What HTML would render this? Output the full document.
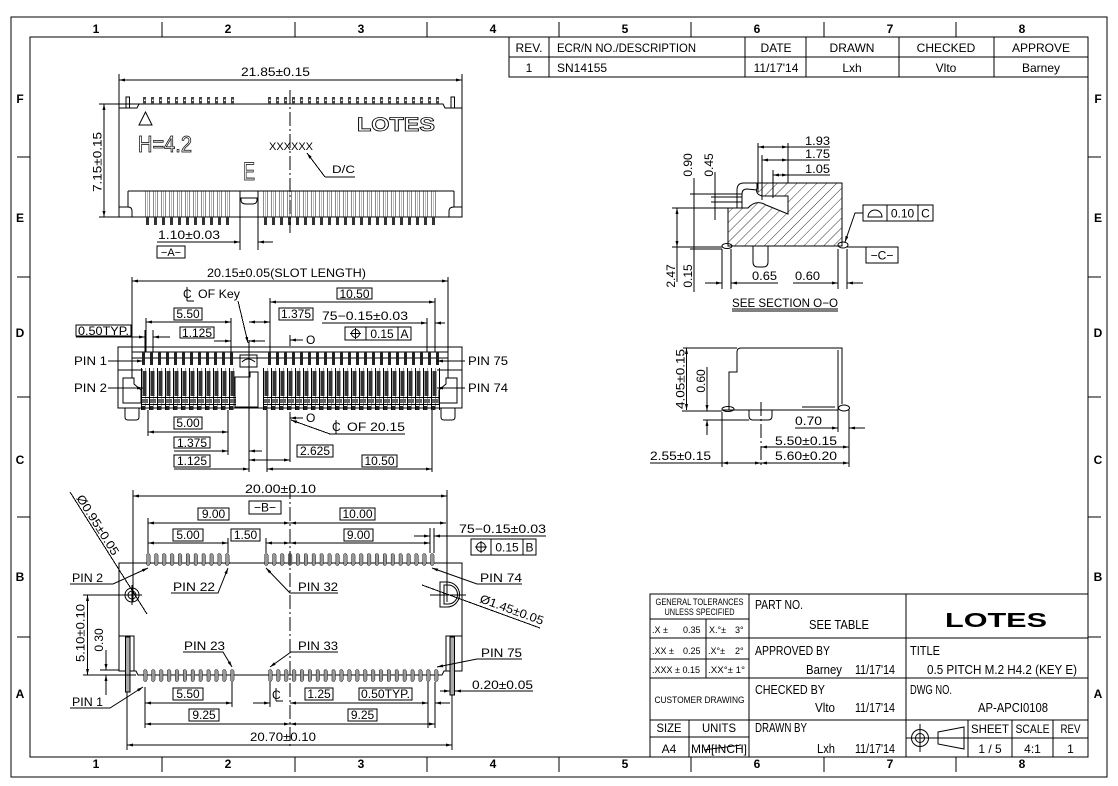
<!DOCTYPE html>
<html><head><meta charset="utf-8">
<style>
html,body{margin:0;padding:0;background:#fff;}
svg{display:block;}
.s line,.s path,.s rect,.s circle,.s polyline,.s polygon,.s ellipse{stroke:#000;stroke-width:1;fill:none;}
.s line,.s rect{shape-rendering:crispEdges;}
text{font-family:"Liberation Sans",sans-serif;fill:#000;}
.d{font-size:12px;}
.b{font-weight:bold;font-size:12px;}
.tb{font-size:13px;}
.sm{font-size:9px;}
.cl{stroke-dasharray:14,3,2,3;}
</style></head><body>
<svg class="s" width="1118" height="786" viewBox="0 0 1118 786" xmlns="http://www.w3.org/2000/svg">
<defs>
<marker id="a" viewBox="0 0 8 4" refX="8" refY="2" markerWidth="7" markerHeight="3" orient="auto-start-reverse" markerUnits="userSpaceOnUse"><path d="M0,0L8,2L0,4z" style="fill:#000;stroke:none"/></marker>
<pattern id="h" patternUnits="userSpaceOnUse" width="7" height="7" patternTransform="rotate(45)"><line x1="0" y1="0" x2="0" y2="7" style="stroke:#000;stroke-width:0.8"/></pattern>
<pattern id="pA1" patternUnits="userSpaceOnUse" x="143" y="97" width="8" height="7"><rect x="0" y="0" width="3.2" height="7" style="fill:#444;stroke:none"/><rect x="0.8" y="2.5" width="1.6" height="1.4" style="fill:#fff;stroke:none"/></pattern>
<pattern id="pA2" patternUnits="userSpaceOnUse" x="268" y="97" width="8" height="7"><rect x="0" y="0" width="3.2" height="7" style="fill:#444;stroke:none"/><rect x="0.8" y="2.5" width="1.6" height="1.4" style="fill:#fff;stroke:none"/></pattern>
<pattern id="pB1" patternUnits="userSpaceOnUse" x="145" y="191" width="8" height="34"><rect x="0.5" y="0" width="4" height="26" style="fill:none;stroke:#000;stroke-width:0.9"/><line x1="2.5" y1="0" x2="2.5" y2="26" style="stroke:#000;stroke-width:0.5"/><rect x="1" y="26" width="3" height="8" style="fill:#333;stroke:none"/></pattern>
<pattern id="pB2" patternUnits="userSpaceOnUse" x="263" y="191" width="8" height="34"><rect x="0.5" y="0" width="4" height="26" style="fill:none;stroke:#000;stroke-width:0.9"/><line x1="2.5" y1="0" x2="2.5" y2="26" style="stroke:#000;stroke-width:0.5"/><rect x="1" y="26" width="3" height="8" style="fill:#333;stroke:none"/></pattern>
<pattern id="pC1" patternUnits="userSpaceOnUse" x="142" y="352" width="8" height="13"><rect x="0" y="0" width="3" height="13" style="fill:#222;stroke:none"/></pattern>
<pattern id="pC2" patternUnits="userSpaceOnUse" x="268" y="352" width="8" height="13"><rect x="0" y="0" width="3" height="13" style="fill:#222;stroke:none"/></pattern>
<pattern id="pD1" patternUnits="userSpaceOnUse" x="141" y="368" width="8" height="42"><line x1="0.5" y1="0" x2="0.5" y2="42" style="stroke:#000;stroke-width:1"/><line x1="4.5" y1="0" x2="4.5" y2="42" style="stroke:#000;stroke-width:0.8"/><rect x="1.5" y="3" width="4" height="25" style="fill:#333;stroke:none"/><line x1="0" y1="29.5" x2="8" y2="29.5" style="stroke:#000;stroke-width:1"/><line x1="0" y1="36.5" x2="8" y2="36.5" style="stroke:#000;stroke-width:1"/><rect x="1" y="31" width="6" height="4" style="fill:#666;stroke:none"/><rect x="1" y="38" width="3" height="4" style="fill:#222;stroke:none"/></pattern>
<pattern id="pD2" patternUnits="userSpaceOnUse" x="263" y="368" width="8" height="42"><line x1="0.5" y1="0" x2="0.5" y2="42" style="stroke:#000;stroke-width:1"/><line x1="4.5" y1="0" x2="4.5" y2="42" style="stroke:#000;stroke-width:0.8"/><rect x="1.5" y="3" width="4" height="25" style="fill:#333;stroke:none"/><line x1="0" y1="29.5" x2="8" y2="29.5" style="stroke:#000;stroke-width:1"/><line x1="0" y1="36.5" x2="8" y2="36.5" style="stroke:#000;stroke-width:1"/><rect x="1" y="31" width="6" height="4" style="fill:#666;stroke:none"/><rect x="1" y="38" width="3" height="4" style="fill:#222;stroke:none"/></pattern>
<pattern id="pE1" patternUnits="userSpaceOnUse" x="146" y="553" width="7.9" height="13"><rect x="0.5" y="0.5" width="3.5" height="12" rx="1.5" style="fill:#999;stroke:#000;stroke-width:0.9"/></pattern>
<pattern id="pE2" patternUnits="userSpaceOnUse" x="264" y="553" width="7.9" height="13"><rect x="0.5" y="0.5" width="3.5" height="12" rx="1.5" style="fill:#999;stroke:#000;stroke-width:0.9"/></pattern>
<pattern id="pF1" patternUnits="userSpaceOnUse" x="143" y="669" width="7.9" height="13"><rect x="0.5" y="0.5" width="3.5" height="12" rx="1.5" style="fill:#999;stroke:#000;stroke-width:0.9"/></pattern>
<pattern id="pF2" patternUnits="userSpaceOnUse" x="268" y="669" width="7.9" height="13"><rect x="0.5" y="0.5" width="3.5" height="12" rx="1.5" style="fill:#999;stroke:#000;stroke-width:0.9"/></pattern>
</defs>

<rect x="0" y="0" width="1118" height="786" style="fill:#fff;stroke:none"/>

<!-- BORDER -->
<rect x="11" y="17" width="1096" height="760"/>
<rect x="30" y="37" width="1058" height="720"/>
<line x1="162" y1="22" x2="162" y2="37"/><line x1="295" y1="22" x2="295" y2="37"/><line x1="427" y1="22" x2="427" y2="37"/><line x1="559" y1="22" x2="559" y2="37"/><line x1="691" y1="22" x2="691" y2="37"/><line x1="824" y1="22" x2="824" y2="37"/><line x1="956" y1="22" x2="956" y2="37"/>
<line x1="162" y1="757" x2="162" y2="772"/><line x1="295" y1="757" x2="295" y2="772"/><line x1="427" y1="757" x2="427" y2="772"/><line x1="559" y1="757" x2="559" y2="772"/><line x1="691" y1="757" x2="691" y2="772"/><line x1="824" y1="757" x2="824" y2="772"/><line x1="956" y1="757" x2="956" y2="772"/>
<line x1="17" y1="157" x2="30" y2="157"/><line x1="17" y1="277" x2="30" y2="277"/><line x1="17" y1="397" x2="30" y2="397"/><line x1="17" y1="517" x2="30" y2="517"/><line x1="17" y1="637" x2="30" y2="637"/>
<line x1="1088" y1="157" x2="1101" y2="157"/><line x1="1088" y1="277" x2="1101" y2="277"/><line x1="1088" y1="397" x2="1101" y2="397"/><line x1="1088" y1="517" x2="1101" y2="517"/><line x1="1088" y1="637" x2="1101" y2="637"/>
<g class="b" text-anchor="middle">
<text x="96" y="33">1</text><text x="228" y="33">2</text><text x="361" y="33">3</text><text x="493" y="33">4</text><text x="625" y="33">5</text><text x="757" y="33">6</text><text x="890" y="33">7</text><text x="1022" y="33">8</text>
<text x="96" y="768">1</text><text x="228" y="768">2</text><text x="361" y="768">3</text><text x="493" y="768">4</text><text x="625" y="768">5</text><text x="757" y="768">6</text><text x="890" y="768">7</text><text x="1022" y="768">8</text>
<text x="20" y="103">F</text><text x="20" y="222">E</text><text x="20" y="337">D</text><text x="20" y="464">C</text><text x="20" y="581">B</text><text x="20" y="698">A</text>
<text x="1098" y="103">F</text><text x="1098" y="222">E</text><text x="1098" y="337">D</text><text x="1098" y="464">C</text><text x="1098" y="581">B</text><text x="1098" y="698">A</text>
</g>

<!-- REVISION TABLE -->
<rect x="509" y="37" width="579" height="40"/>
<line x1="509" y1="57" x2="1088" y2="57"/>
<line x1="549" y1="37" x2="549" y2="77"/><line x1="745" y1="37" x2="745" y2="77"/><line x1="806" y1="37" x2="806" y2="77"/><line x1="899" y1="37" x2="899" y2="77"/><line x1="994" y1="37" x2="994" y2="77"/>
<g style="font-size:12px">
<text x="529" y="52" text-anchor="middle">REV.</text>
<text x="557" y="52" textLength="139" lengthAdjust="spacingAndGlyphs">ECR/N NO./DESCRIPTION</text>
<text x="776" y="52" text-anchor="middle">DATE</text>
<text x="852" y="52" text-anchor="middle">DRAWN</text>
<text x="946" y="52" text-anchor="middle">CHECKED</text>
<text x="1041" y="52" text-anchor="middle">APPROVE</text>
<text x="529" y="72" text-anchor="middle">1</text>
<text x="557" y="72">SN14155</text>
<text x="776" y="72" text-anchor="middle">11/17'14</text>
<text x="852" y="72" text-anchor="middle">Lxh</text>
<text x="946" y="72" text-anchor="middle">Vlto</text>
<text x="1041" y="72" text-anchor="middle">Barney</text>
</g>

<!-- TOP VIEW -->
<line x1="119" y1="80" x2="462" y2="80" marker-start="url(#a)" marker-end="url(#a)"/>
<text class="d" x="241" y="76" textLength="69" lengthAdjust="spacingAndGlyphs">21.85±0.15</text>
<line x1="119" y1="74" x2="119" y2="108"/><line x1="462" y1="74" x2="462" y2="108"/>
<line x1="104" y1="104" x2="104" y2="217" marker-start="url(#a)" marker-end="url(#a)"/>
<line x1="99" y1="104" x2="139" y2="104"/><line x1="99" y1="217" x2="119" y2="217"/>
<text class="d" transform="translate(101.5,162) rotate(-90)" text-anchor="middle" textLength="60" lengthAdjust="spacingAndGlyphs">7.15±0.15</text>
<path d="M119,217 L119,108 L137,108 L139,104 L443,104 L445,108 L462,108 L462,217 Z"/>
<rect x="126" y="97" width="3.5" height="11"/><rect x="451" y="97" width="3.5" height="11"/>
<rect x="143" y="97" width="92" height="7" style="fill:url(#pA1);stroke:none"/>
<rect x="268" y="97" width="176" height="7" style="fill:url(#pA2);stroke:none"/>
<line x1="128" y1="191" x2="454" y2="191"/>
<line x1="128" y1="191" x2="128" y2="207"/><line x1="454" y1="191" x2="454" y2="207"/>
<path d="M119,207 L128,207 Q132,207 132,211 L132,217"/>
<path d="M462,207 L454,207 Q449,207 449,211 L449,217"/>
<line x1="240" y1="191" x2="240" y2="250"/><line x1="258" y1="191" x2="258" y2="250"/>
<path d="M241,198 L257,198 L257,200 Q257,204 252,204 L246,204 Q241,204 241,200 Z"/>
<rect x="145" y="191" width="88" height="34" style="fill:url(#pB1);stroke:none"/>
<rect x="263" y="191" width="176" height="34" style="fill:url(#pB2);stroke:none"/>
<line class="cl" x1="290" y1="90" x2="290" y2="233"/>
<polygon points="139,125 152,125 145.5,112"/>
<text x="138" y="152" style="font-size:23px;fill:#fff;stroke:#000;stroke-width:0.8" textLength="54" lengthAdjust="spacingAndGlyphs">H=4.2</text>
<text x="357" y="131" style="font-size:19px;font-weight:bold;fill:#fff;stroke:#000;stroke-width:0.8" textLength="78" lengthAdjust="spacingAndGlyphs">LOTES</text>
<text x="269" y="150" style="font-size:11px" textLength="44" lengthAdjust="spacingAndGlyphs">XXXXXX</text>
<text x="243" y="180" style="font-size:25px;fill:#fff;stroke:#000;stroke-width:0.8" textLength="12" lengthAdjust="spacingAndGlyphs">E</text>
<text x="332" y="173" style="font-size:11px" textLength="23" lengthAdjust="spacingAndGlyphs">D/C</text>
<line x1="325" y1="177" x2="355" y2="177"/>
<line x1="325" y1="177" x2="307" y2="153" marker-end="url(#a)"/>
<text class="d" x="158" y="239" textLength="62" lengthAdjust="spacingAndGlyphs">1.10±0.03</text>
<line x1="157" y1="242" x2="240" y2="242" marker-end="url(#a)"/>
<line x1="273" y1="242" x2="258" y2="242" marker-end="url(#a)"/>
<rect x="157" y="246" width="28" height="12"/>
<text x="171" y="256" text-anchor="middle" style="font-size:11px">−A−</text>

<!-- MIDDLE VIEW -->
<text class="d" x="207" y="277" textLength="159" lengthAdjust="spacingAndGlyphs">20.15±0.05(SLOT LENGTH)</text>
<line x1="132" y1="281" x2="448" y2="281" marker-start="url(#a)" marker-end="url(#a)"/>
<line x1="132" y1="277" x2="132" y2="378"/><line x1="448" y1="277" x2="448" y2="378"/>
<text class="d" x="183" y="298">C</text><line x1="187" y1="287" x2="187" y2="301"/><line x1="187" y1="301" x2="194" y2="301"/>
<text class="d" x="198" y="298" textLength="42" lengthAdjust="spacingAndGlyphs">OF  Key</text>
<line x1="238" y1="301" x2="248" y2="343" marker-end="url(#a)"/>
<rect x="337" y="288" width="35" height="11"/><text class="d" x="354.5" y="298" text-anchor="middle">10.50</text>
<line x1="270" y1="302" x2="435" y2="302" marker-start="url(#a)" marker-end="url(#a)"/>
<line x1="270" y1="298" x2="270" y2="352"/><line x1="435" y1="298" x2="435" y2="352"/>
<rect x="174" y="308" width="28" height="12"/><text class="d" x="188" y="318" text-anchor="middle">5.50</text>
<line x1="146" y1="322" x2="231" y2="322" marker-start="url(#a)" marker-end="url(#a)"/>
<line x1="146" y1="318" x2="146" y2="352"/><line x1="231" y1="318" x2="231" y2="352"/>
<rect x="279" y="308" width="34" height="12"/><text class="d" x="296" y="318" text-anchor="middle">1.375</text>
<line x1="249" y1="322" x2="270" y2="322" marker-start="url(#a)" marker-end="url(#a)"/>
<text class="d" x="322" y="320" textLength="86" lengthAdjust="spacingAndGlyphs">75−0.15±0.03</text>
<line x1="322" y1="323" x2="427" y2="323" marker-end="url(#a)"/>
<line x1="445" y1="323" x2="435" y2="323" marker-end="url(#a)"/>
<line x1="427" y1="318" x2="427" y2="352"/>
<rect x="76" y="325" width="55" height="11"/><text class="d" x="103.5" y="335" text-anchor="middle" textLength="51" lengthAdjust="spacingAndGlyphs">0.50TYP.</text>
<line x1="76" y1="337" x2="145" y2="337" marker-end="url(#a)"/>
<line x1="170" y1="337" x2="153" y2="337" marker-end="url(#a)"/>
<line x1="145" y1="330" x2="145" y2="352"/><line x1="153" y1="330" x2="153" y2="352"/>
<rect x="180" y="327" width="34" height="11"/><text class="d" x="197" y="337" text-anchor="middle">1.125</text>
<line x1="214" y1="341" x2="231" y2="341" marker-end="url(#a)"/>
<line x1="265" y1="341" x2="249" y2="341" marker-end="url(#a)"/>
<line x1="249" y1="340" x2="249" y2="472"/>
<rect x="345" y="327" width="66" height="13"/><line x1="366" y1="327" x2="366" y2="340"/><line x1="398" y1="327" x2="398" y2="340"/>
<circle cx="355.5" cy="333.5" r="4"/><line x1="350" y1="333.5" x2="361" y2="333.5"/><line x1="355.5" y1="328" x2="355.5" y2="339"/>
<text class="d" x="382" y="338" text-anchor="middle">0.15</text><text class="d" x="404.5" y="338" text-anchor="middle">A</text>
<line x1="290" y1="335" x2="290" y2="346"/><line x1="303" y1="340" x2="290" y2="340" marker-end="url(#a)"/><text class="d" x="306" y="344">O</text>
<rect x="118" y="347" width="344" height="61"/>
<line x1="132" y1="352" x2="448" y2="352"/>
<line x1="132" y1="358" x2="448" y2="358" style="stroke-width:0.6"/>
<line x1="118" y1="370" x2="143" y2="370"/><line x1="437" y1="370" x2="462" y2="370"/>
<path d="M123,378 L134,378 L134,384 L141,390 L141,403 L123,403 Z"/>
<path d="M457,378 L446,378 L446,384 L439,390 L439,403 L457,403 Z"/>
<path d="M125,408 L125,417 Q125,420 128,420 L136,420 Q139,420 139,417 L139,408"/>
<path d="M441,408 L441,417 Q441,420 444,420 L452,420 Q455,420 455,417 L455,408"/>
<rect x="142" y="352" width="92" height="13" style="fill:url(#pC1);stroke:none"/>
<rect x="268" y="352" width="176" height="13" style="fill:url(#pC2);stroke:none"/>
<rect x="141" y="368" width="95" height="42" style="fill:url(#pD1);stroke:none"/>
<rect x="263" y="368" width="177" height="42" style="fill:url(#pD2);stroke:none"/>
<rect x="240" y="355" width="17" height="12"/><path d="M242,362 Q248,356 255,362"/>
<path d="M235,377 L250,377 L250,372 L258,372 L258,407 L235,407 Z"/>
<text class="d" x="74" y="365" textLength="33" lengthAdjust="spacingAndGlyphs">PIN  1</text>
<line x1="108" y1="361" x2="143" y2="361" marker-end="url(#a)"/>
<text class="d" x="74" y="392" textLength="33" lengthAdjust="spacingAndGlyphs">PIN  2</text>
<line x1="108" y1="388" x2="143" y2="388" marker-end="url(#a)"/>
<text class="d" x="468" y="365" textLength="40" lengthAdjust="spacingAndGlyphs">PIN  75</text>
<line x1="465" y1="361" x2="437" y2="361" marker-end="url(#a)"/>
<text class="d" x="468" y="392" textLength="40" lengthAdjust="spacingAndGlyphs">PIN  74</text>
<line x1="465" y1="388" x2="437" y2="388" marker-end="url(#a)"/>
<rect x="174" y="417" width="28" height="12"/><text class="d" x="188" y="427" text-anchor="middle">5.00</text>
<line x1="148" y1="432" x2="228" y2="432" marker-start="url(#a)" marker-end="url(#a)"/>
<line x1="148" y1="410" x2="148" y2="436"/><line x1="228" y1="410" x2="228" y2="455"/>
<line x1="290" y1="412" x2="290" y2="462"/><line x1="303" y1="418" x2="290" y2="418" marker-end="url(#a)"/><text class="d" x="306" y="422">O</text>
<text class="d" x="332" y="431">C</text><line x1="336" y1="420" x2="336" y2="434"/>
<text class="d" x="347" y="431" textLength="58" lengthAdjust="spacingAndGlyphs">OF  20.15</text>
<line x1="330" y1="434" x2="405" y2="434"/>
<line x1="330" y1="434" x2="291" y2="420" marker-end="url(#a)"/>
<rect x="174" y="437" width="36" height="11"/><text class="d" x="192" y="447" text-anchor="middle">1.375</text>
<line x1="174" y1="451" x2="228" y2="451" marker-end="url(#a)"/>
<line x1="262" y1="451" x2="249" y2="451" marker-end="url(#a)"/>
<rect x="297" y="445" width="36" height="12"/><text class="d" x="315" y="455" text-anchor="middle">2.625</text>
<line x1="249" y1="460" x2="290" y2="460" marker-start="url(#a)" marker-end="url(#a)"/>
<rect x="174" y="455" width="36" height="12"/><text class="d" x="192" y="465" text-anchor="middle">1.125</text>
<line x1="174" y1="469" x2="249" y2="469" marker-end="url(#a)"/>
<rect x="362" y="455" width="35" height="12"/><text class="d" x="379.5" y="465" text-anchor="middle">10.50</text>
<line x1="267" y1="469" x2="432" y2="469" marker-start="url(#a)" marker-end="url(#a)"/>
<line x1="267" y1="410" x2="267" y2="472"/><line x1="432" y1="410" x2="432" y2="472"/>

<!-- SECTION VIEW -->
<path d="M728,246 L728,208 L748,208 Q756,199 766,205 L788,214 L788,196 L762,196 Q755,194 757,188 L757,183 L842,183 L842,246 Z" style="fill:url(#h);stroke:#000"/>
<path d="M737,208 L737,190 Q737,183 744,183 L757,183"/>
<path d="M742,208 L742,194 Q742,189 747,189 L757,190"/>
<path d="M753,246 L753,262 Q753,267 758,267 L763,267 Q768,267 768,262 L768,246"/>
<ellipse cx="727" cy="246" rx="5" ry="2.5"/><ellipse cx="843" cy="245" rx="5" ry="3"/>
<line x1="758" y1="143" x2="758" y2="192"/><line x1="788" y1="143" x2="788" y2="183"/>
<line x1="762" y1="155" x2="762" y2="200"/><line x1="773" y1="170" x2="773" y2="198"/>
<line x1="758" y1="147" x2="788" y2="147" marker-start="url(#a)" marker-end="url(#a)"/><line x1="788" y1="147" x2="830" y2="147"/>
<text class="d" x="805" y="145" textLength="25" lengthAdjust="spacingAndGlyphs">1.93</text>
<line x1="762" y1="160" x2="788" y2="160" marker-start="url(#a)" marker-end="url(#a)"/><line x1="788" y1="160" x2="830" y2="160"/>
<text class="d" x="805" y="158" textLength="25" lengthAdjust="spacingAndGlyphs">1.75</text>
<line x1="773" y1="175" x2="788" y2="175" marker-start="url(#a)" marker-end="url(#a)"/><line x1="788" y1="175" x2="830" y2="175"/>
<text class="d" x="805" y="173" textLength="25" lengthAdjust="spacingAndGlyphs">1.05</text>
<text class="d" transform="translate(692,165) rotate(-90)" text-anchor="middle">0.90</text>
<text class="d" transform="translate(713,165) rotate(-90)" text-anchor="middle">0.45</text>
<line x1="694" y1="178" x2="694" y2="292"/><line x1="715" y1="172" x2="715" y2="220"/>
<line x1="690" y1="194" x2="742" y2="194"/><line x1="711" y1="197" x2="742" y2="197"/><line x1="711" y1="202" x2="742" y2="202"/>
<line x1="672" y1="208" x2="728" y2="208"/>
<text class="d" transform="translate(675,276) rotate(-90)" text-anchor="middle">2.47</text>
<text class="d" transform="translate(692,276) rotate(-90)" text-anchor="middle">0.15</text>
<line x1="677" y1="208" x2="677" y2="247" marker-start="url(#a)" marker-end="url(#a)"/><line x1="677" y1="247" x2="677" y2="282"/>
<line x1="672" y1="247" x2="722" y2="247"/><line x1="690" y1="249" x2="722" y2="249"/>
<line x1="705" y1="283" x2="722" y2="283" marker-end="url(#a)"/>
<line x1="778" y1="283" x2="731" y2="283" marker-end="url(#a)"/>
<line x1="793" y1="283" x2="838" y2="283" marker-end="url(#a)"/>
<line x1="863" y1="283" x2="847" y2="283" marker-end="url(#a)"/>
<text class="d" x="752" y="280" textLength="25" lengthAdjust="spacingAndGlyphs">0.65</text>
<text class="d" x="795" y="280" textLength="25" lengthAdjust="spacingAndGlyphs">0.60</text>
<line x1="722" y1="249" x2="722" y2="289"/><line x1="731" y1="249" x2="731" y2="289"/><line x1="838" y1="249" x2="838" y2="289"/><line x1="847" y1="249" x2="847" y2="289"/>
<text class="d" x="732" y="307" textLength="106" lengthAdjust="spacingAndGlyphs">SEE  SECTION  O−O</text>
<line x1="732" y1="309" x2="838" y2="309"/><line x1="732" y1="311" x2="838" y2="311"/>
<rect x="863" y="205" width="70" height="16"/><line x1="887" y1="205" x2="887" y2="221"/><line x1="918" y1="205" x2="918" y2="221"/>
<path d="M868,217 A7,7 0 0 1 882,217 Z"/>
<text class="d" x="902.5" y="217.5" text-anchor="middle">0.10</text><text class="d" x="925.5" y="217.5" text-anchor="middle">C</text>
<path d="M863,213 L855,213 L845,242" marker-end="url(#a)"/>
<line x1="846" y1="247" x2="866" y2="247"/>
<rect x="866" y="247" width="32" height="16"/><text class="d" x="882" y="259.5" text-anchor="middle">−C−</text>

<!-- SIDE VIEW -->
<path d="M729,410 L729,372 L737,372 L737,352 Q737,348 741,348 L842,348 L842,404"/>
<line x1="838" y1="350" x2="838" y2="405"/>
<line x1="722" y1="410" x2="838" y2="410"/>
<line x1="802" y1="407" x2="835" y2="407"/>
<ellipse cx="728" cy="409" rx="6" ry="2.5"/><ellipse cx="844" cy="408" rx="5.5" ry="3"/>
<path d="M749,410 L749,416 Q749,420 753,420 L768,420 Q772,420 772,416 L772,410"/>
<line class="cl" x1="761" y1="402" x2="761" y2="467"/>
<text class="d" transform="translate(684.5,379) rotate(-90)" text-anchor="middle" textLength="60" lengthAdjust="spacingAndGlyphs">4.05±0.15</text>
<line x1="686.5" y1="348" x2="686.5" y2="410" marker-start="url(#a)" marker-end="url(#a)"/>
<line x1="683" y1="348" x2="737" y2="348"/><line x1="682" y1="411" x2="722" y2="411"/>
<text class="d" transform="translate(705,381) rotate(-90)" text-anchor="middle">0.60</text>
<line x1="707" y1="367" x2="707" y2="411" marker-end="url(#a)"/>
<line x1="707" y1="435" x2="707" y2="420" marker-end="url(#a)"/>
<line x1="703" y1="420" x2="749" y2="420"/>
<text class="d" x="795" y="425" textLength="27" lengthAdjust="spacingAndGlyphs">0.70</text>
<line x1="795" y1="428" x2="838" y2="428" marker-end="url(#a)"/>
<line x1="865" y1="428" x2="849" y2="428" marker-end="url(#a)"/>
<line x1="838" y1="405" x2="838" y2="432"/><line x1="849" y1="410" x2="849" y2="467"/>
<text class="d" x="775" y="445" textLength="62" lengthAdjust="spacingAndGlyphs">5.50±0.15</text>
<line x1="761" y1="447" x2="849" y2="447" marker-start="url(#a)" marker-end="url(#a)"/>
<text class="d" x="775" y="460" textLength="62" lengthAdjust="spacingAndGlyphs">5.60±0.20</text>
<line x1="761" y1="463" x2="849" y2="463" marker-start="url(#a)" marker-end="url(#a)"/>
<text class="d" x="650" y="460" textLength="61" lengthAdjust="spacingAndGlyphs">2.55±0.15</text>
<line x1="650" y1="463" x2="722" y2="463"/>
<line x1="722" y1="463" x2="761" y2="463" marker-start="url(#a)" marker-end="url(#a)"/>
<line x1="722" y1="412" x2="722" y2="467"/>

<!-- BOTTOM VIEW -->
<text class="d" x="245" y="493" textLength="71" lengthAdjust="spacingAndGlyphs">20.00±0.10</text>
<line x1="133" y1="496" x2="447" y2="496" marker-start="url(#a)" marker-end="url(#a)"/>
<line x1="133" y1="490" x2="133" y2="602"/><line x1="447" y1="490" x2="447" y2="602"/>
<rect x="249" y="501" width="32" height="13"/><text class="d" x="265" y="511.5" text-anchor="middle">−B−</text>
<rect x="198" y="508" width="31" height="12"/><text class="d" x="213.5" y="518" text-anchor="middle">9.00</text>
<rect x="340" y="508" width="35" height="12"/><text class="d" x="357.5" y="518" text-anchor="middle">10.00</text>
<line x1="148" y1="523" x2="290" y2="523" marker-start="url(#a)" marker-end="url(#a)"/>
<line x1="290" y1="523" x2="446" y2="523" marker-start="url(#a)" marker-end="url(#a)"/>
<rect x="173" y="529" width="30" height="12"/><text class="d" x="188" y="539" text-anchor="middle">5.00</text>
<rect x="231" y="529" width="29" height="12"/><text class="d" x="245.5" y="539" text-anchor="middle">1.50</text>
<rect x="344" y="529" width="29" height="12"/><text class="d" x="358.5" y="539" text-anchor="middle">9.00</text>
<line x1="148" y1="543" x2="228" y2="543" marker-start="url(#a)" marker-end="url(#a)"/>
<line x1="266" y1="543" x2="290" y2="543" marker-start="url(#a)" marker-end="url(#a)"/>
<line x1="290" y1="543" x2="430" y2="543" marker-start="url(#a)" marker-end="url(#a)"/>
<line x1="148" y1="518" x2="148" y2="553"/><line x1="228" y1="538" x2="228" y2="553"/><line x1="266" y1="538" x2="266" y2="553"/><line x1="430" y1="528" x2="430" y2="553"/><line x1="434" y1="528" x2="434" y2="553"/>
<text class="d" x="459" y="533" textLength="87" lengthAdjust="spacingAndGlyphs">75−0.15±0.03</text>
<line x1="414" y1="536" x2="430" y2="536" marker-end="url(#a)"/>
<line x1="546" y1="536" x2="434" y2="536" marker-end="url(#a)"/>
<rect x="471" y="539" width="65" height="16"/><line x1="491" y1="539" x2="491" y2="555"/><line x1="523" y1="539" x2="523" y2="555"/>
<circle cx="481" cy="547" r="4.5"/><line x1="475" y1="547" x2="487" y2="547"/><line x1="481" y1="541" x2="481" y2="553"/>
<text class="d" x="507" y="551.5" text-anchor="middle">0.15</text><text class="d" x="529.5" y="551.5" text-anchor="middle">B</text>
<path d="M119,671 L119,563 L462,563 L462,671"/>
<path d="M119,671 L136,671 L138,675 L442,675 L444,671 L462,671"/>
<rect x="119" y="636" width="15" height="35"/><rect x="446" y="636" width="16" height="35"/>
<rect x="125.5" y="637" width="4.5" height="55" style="fill:#aaa;stroke:#000"/>
<rect x="450" y="637" width="4.5" height="58" style="fill:#aaa;stroke:#000"/>
<rect x="146" y="553" width="86" height="13" style="fill:url(#pE1);stroke:none"/>
<rect x="264" y="553" width="173" height="13" style="fill:url(#pE2);stroke:none"/>
<rect x="143" y="669" width="94" height="13" style="fill:url(#pF1);stroke:none"/>
<rect x="268" y="669" width="173" height="13" style="fill:url(#pF2);stroke:none"/>
<circle cx="132" cy="595" r="7"/><circle cx="132" cy="595" r="4"/>
<line x1="122" y1="595" x2="142" y2="595"/><line x1="132" y1="585" x2="132" y2="605"/>
<path d="M440,582 L447,582 A12.5,12.5 0 0 1 447,607 L440,607 Z"/>
<path d="M444,585 L448,585 A9.5,9.5 0 0 1 448,604 L444,604 Z"/>
<line x1="430" y1="595" x2="466" y2="595"/>
<line x1="70" y1="492" x2="147" y2="614"/>
<text class="d" transform="translate(76,498) rotate(57.7)" textLength="69" lengthAdjust="spacingAndGlyphs">Ø0.95±0.05</text>
<line x1="422" y1="585" x2="540" y2="628"/>
<text class="d" transform="translate(479,602) rotate(20)" textLength="67" lengthAdjust="spacingAndGlyphs">Ø1.45±0.05</text>
<line class="cl" x1="290" y1="485" x2="290" y2="748"/>
<text class="d" x="72" y="582" textLength="31" lengthAdjust="spacingAndGlyphs">PIN  2</text>
<path d="M70,584 L113,584 L148,568" marker-end="url(#a)"/>
<text class="d" x="173" y="591" textLength="42" lengthAdjust="spacingAndGlyphs">PIN  22</text>
<path d="M171,593 L218,593 L228,568" marker-end="url(#a)"/>
<text class="d" x="298" y="591" textLength="40" lengthAdjust="spacingAndGlyphs">PIN  32</text>
<path d="M338,593 L290,593 L266,568" marker-end="url(#a)"/>
<text class="d" x="480" y="582" textLength="42" lengthAdjust="spacingAndGlyphs">PIN  74</text>
<path d="M522,584 L477,584 L432,568" marker-end="url(#a)"/>
<text class="d" x="184" y="650" textLength="41" lengthAdjust="spacingAndGlyphs">PIN  23</text>
<path d="M183,652 L223,652 L232,667" marker-end="url(#a)"/>
<text class="d" x="298" y="650" textLength="40" lengthAdjust="spacingAndGlyphs">PIN  33</text>
<path d="M338,652 L291,652 L270,667" marker-end="url(#a)"/>
<text class="d" x="481" y="657" textLength="41" lengthAdjust="spacingAndGlyphs">PIN  75</text>
<path d="M522,659 L477,659 L437,667" marker-end="url(#a)"/>
<text class="d" x="72" y="706" textLength="31" lengthAdjust="spacingAndGlyphs">PIN  1</text>
<path d="M70,708 L110,708 L143,687" marker-end="url(#a)"/>
<text class="d" transform="translate(84.5,633) rotate(-90)" text-anchor="middle" textLength="58" lengthAdjust="spacingAndGlyphs">5.10±0.10</text>
<line x1="87.5" y1="595" x2="87.5" y2="675" marker-start="url(#a)" marker-end="url(#a)"/>
<line x1="83" y1="595" x2="128" y2="595"/><line x1="83" y1="675" x2="136" y2="675"/>
<text class="d" transform="translate(103,640) rotate(-90)" text-anchor="middle">0.30</text>
<line x1="106" y1="650" x2="106" y2="670" marker-end="url(#a)"/>
<line x1="106" y1="695" x2="106" y2="675" marker-end="url(#a)"/>
<line x1="100" y1="670" x2="119" y2="670"/>
<rect x="173" y="688" width="30" height="12"/><text class="d" x="188" y="698" text-anchor="middle">5.50</text>
<line x1="145" y1="703" x2="232" y2="703" marker-start="url(#a)" marker-end="url(#a)"/>
<text class="d" x="272" y="699">C</text><line x1="276" y1="688" x2="276" y2="701"/><line x1="276" y1="701" x2="283" y2="701"/>
<line x1="253" y1="703" x2="270" y2="703" marker-end="url(#a)"/>
<line x1="290" y1="703" x2="428" y2="703" marker-start="url(#a)" marker-end="url(#a)"/>
<line x1="450" y1="703" x2="435" y2="703" marker-end="url(#a)"/>
<rect x="305" y="688" width="28" height="12"/><text class="d" x="319" y="698" text-anchor="middle">1.25</text>
<rect x="359" y="688" width="53" height="12"/><text class="d" x="385.5" y="698" text-anchor="middle" textLength="49" lengthAdjust="spacingAndGlyphs">0.50TYP.</text>
<text class="d" x="472" y="689" textLength="61" lengthAdjust="spacingAndGlyphs">0.20±0.05</text>
<line x1="533" y1="691" x2="455" y2="691" marker-end="url(#a)"/>
<line x1="440" y1="691" x2="450" y2="691" marker-end="url(#a)"/>
<rect x="189" y="709" width="30" height="12"/><text class="d" x="204" y="719" text-anchor="middle">9.25</text>
<rect x="348" y="709" width="29" height="12"/><text class="d" x="362.5" y="719" text-anchor="middle">9.25</text>
<line x1="145" y1="724" x2="290" y2="724" marker-start="url(#a)" marker-end="url(#a)"/>
<line x1="290" y1="724" x2="435" y2="724" marker-start="url(#a)" marker-end="url(#a)"/>
<text class="d" x="250" y="741" textLength="66" lengthAdjust="spacingAndGlyphs">20.70±0.10</text>
<line x1="127" y1="745" x2="452" y2="745" marker-start="url(#a)" marker-end="url(#a)"/>
<line x1="127" y1="692" x2="127" y2="750"/><line x1="452" y1="695" x2="452" y2="750"/>
<line x1="145" y1="687" x2="145" y2="728"/><line x1="232" y1="682" x2="232" y2="707"/><line x1="270" y1="682" x2="270" y2="707"/>
<line x1="428" y1="682" x2="428" y2="728"/><line x1="435" y1="682" x2="435" y2="728"/>

<!-- TITLE BLOCK -->
<rect x="650" y="594" width="438" height="163"/>
<line x1="749" y1="594" x2="749" y2="757"/><line x1="906" y1="594" x2="906" y2="757"/>
<line x1="650" y1="619" x2="749" y2="619"/>
<line x1="650" y1="638" x2="1088" y2="638"/>
<line x1="650" y1="659" x2="749" y2="659"/>
<line x1="650" y1="678" x2="1088" y2="678"/>
<line x1="650" y1="720" x2="1088" y2="720"/>
<line x1="650" y1="737" x2="749" y2="737"/>
<line x1="706" y1="619" x2="706" y2="678"/>
<line x1="689" y1="720" x2="689" y2="757"/>
<line x1="968" y1="720" x2="968" y2="757"/>
<line x1="968" y1="738" x2="1088" y2="738"/>
<line x1="1012" y1="720" x2="1012" y2="757"/><line x1="1053" y1="720" x2="1053" y2="757"/>
<text class="sm" x="699.5" y="605" text-anchor="middle" textLength="88" lengthAdjust="spacingAndGlyphs">GENERAL TOLERANCES</text>
<text class="sm" x="699.5" y="615" text-anchor="middle" textLength="70" lengthAdjust="spacingAndGlyphs">UNLESS  SPECIFIED</text>
<text class="sm" x="652" y="633">.X ±</text><text class="sm" x="683" y="633">0.35</text><text class="sm" x="709" y="633">X.°±</text><text class="sm" x="735" y="633">3°</text>
<text class="sm" x="652" y="654">.XX ±</text><text class="sm" x="683" y="654">0.25</text><text class="sm" x="708" y="654">.X°±</text><text class="sm" x="735" y="654">2°</text>
<text class="sm" x="652" y="673" textLength="48" lengthAdjust="spacingAndGlyphs">.XXX ± 0.15</text><text class="sm" x="708" y="673" textLength="37" lengthAdjust="spacingAndGlyphs">.XX°± 1°</text>
<text class="sm" x="699.5" y="703" text-anchor="middle" textLength="90" lengthAdjust="spacingAndGlyphs">CUSTOMER DRAWING</text>
<text x="669" y="732" text-anchor="middle" style="font-size:12px" textLength="25" lengthAdjust="spacingAndGlyphs">SIZE</text>
<text x="719" y="732" text-anchor="middle" style="font-size:12px" textLength="34" lengthAdjust="spacingAndGlyphs">UNITS</text>
<text x="669" y="753" text-anchor="middle" style="font-size:12px">A4</text>
<text x="691" y="753" style="font-size:12px" textLength="56" lengthAdjust="spacingAndGlyphs">MM[INCH]</text>
<line x1="704" y1="750" x2="741" y2="745"/>
<text class="tb" x="755" y="609" textLength="48" lengthAdjust="spacingAndGlyphs">PART NO.</text>
<text class="tb" x="809" y="629" textLength="60" lengthAdjust="spacingAndGlyphs">SEE TABLE</text>
<text class="tb" x="755" y="655" textLength="75" lengthAdjust="spacingAndGlyphs">APPROVED BY</text>
<text class="tb" x="806" y="674" textLength="36" lengthAdjust="spacingAndGlyphs">Barney</text>
<text class="tb" x="855" y="674" textLength="40" lengthAdjust="spacingAndGlyphs">11/17'14</text>
<text class="tb" x="755" y="694" textLength="70" lengthAdjust="spacingAndGlyphs">CHECKED BY</text>
<text class="tb" x="815" y="712" textLength="20" lengthAdjust="spacingAndGlyphs">Vlto</text>
<text class="tb" x="855" y="712" textLength="40" lengthAdjust="spacingAndGlyphs">11/17'14</text>
<text class="tb" x="755" y="732" textLength="52" lengthAdjust="spacingAndGlyphs">DRAWN BY</text>
<text class="tb" x="817" y="753" textLength="18" lengthAdjust="spacingAndGlyphs">Lxh</text>
<text class="tb" x="855" y="753" textLength="40" lengthAdjust="spacingAndGlyphs">11/17'14</text>
<text x="945" y="627" style="font-size:20px;font-weight:bold" textLength="102" lengthAdjust="spacingAndGlyphs">LOTES</text>
<text class="tb" x="910" y="655" textLength="30" lengthAdjust="spacingAndGlyphs">TITLE</text>
<text class="tb" x="927" y="674" textLength="150" lengthAdjust="spacingAndGlyphs">0.5 PITCH M.2 H4.2 (KEY E)</text>
<text class="tb" x="910" y="694" textLength="42" lengthAdjust="spacingAndGlyphs">DWG NO.</text>
<text class="tb" x="978" y="712" textLength="70" lengthAdjust="spacingAndGlyphs">AP-APCI0108</text>
<text x="990" y="733" text-anchor="middle" style="font-size:12px" textLength="38" lengthAdjust="spacingAndGlyphs">SHEET</text>
<text x="1032.5" y="733" text-anchor="middle" style="font-size:12px" textLength="34" lengthAdjust="spacingAndGlyphs">SCALE</text>
<text x="1070.5" y="733" text-anchor="middle" style="font-size:12px" textLength="20" lengthAdjust="spacingAndGlyphs">REV</text>
<text x="990" y="753" text-anchor="middle" style="font-size:12px">1 / 5</text>
<text x="1032.5" y="753" text-anchor="middle" style="font-size:12px">4:1</text>
<text x="1070.5" y="753" text-anchor="middle" style="font-size:12px">1</text>
<circle cx="920" cy="738" r="8.5"/><circle cx="920" cy="738" r="4.5"/>
<line x1="906" y1="738" x2="934" y2="738"/><line x1="920" y1="724" x2="920" y2="752"/>
<polygon points="938,732 964,727 964,749 938,744"/>
<line x1="934" y1="738" x2="968" y2="738"/>
</svg>
</body></html>
